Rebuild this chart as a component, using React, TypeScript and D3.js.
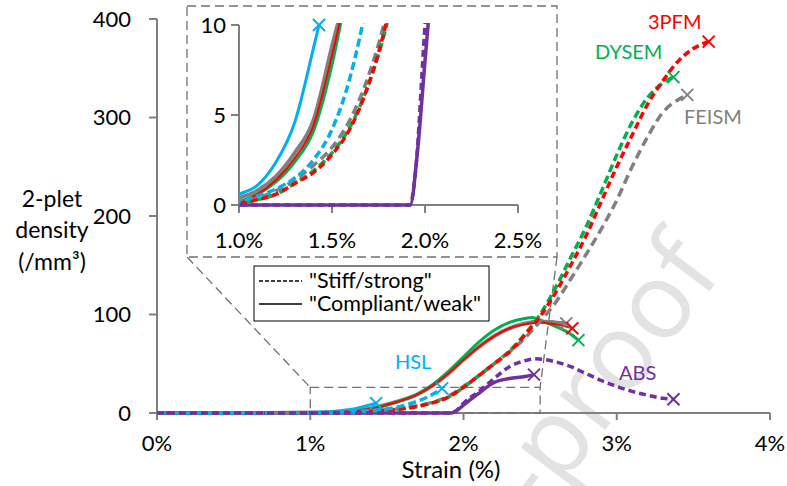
import React from 'react';
import * as d3 from 'd3';

// strain (%) / 2-plet density (/mm³)
const pfmStiff: [number, number][] = [
  [0, 0], [0.8, 0], [1.0, 0.1], [1.1, 0.3], [1.2, 0.6], [1.3, 1.2], [1.4, 1.8], [1.5, 2.8], [1.6, 4.3], [1.7, 6.8],
  [1.8, 10.5], [1.9, 16], [2.0, 26], [2.1, 38], [2.2, 50], [2.3, 62], [2.4, 79], [2.5, 98], [2.6, 122], [2.7, 150],
  [2.8, 180], [2.9, 215], [3.0, 250], [3.1, 282], [3.2, 313], [3.3, 337], [3.4, 357], [3.5, 370], [3.6, 377],
];
const dysemStiff: [number, number][] = [
  [0, 0], [0.8, 0], [1.0, 0.1], [1.1, 0.3], [1.2, 0.6], [1.3, 1.2], [1.4, 1.9], [1.5, 2.9], [1.6, 4.4], [1.7, 6.8],
  [1.8, 10.3], [1.9, 16], [2.0, 26], [2.1, 38], [2.2, 50], [2.3, 63], [2.4, 80], [2.5, 100], [2.6, 127], [2.7, 158],
  [2.8, 189], [2.9, 225], [3.0, 262], [3.1, 295], [3.2, 320], [3.3, 335], [3.37, 341],
];
const feismStiff: [number, number][] = [
  [0, 0], [0.8, 0], [1.0, 0.2], [1.1, 0.4], [1.2, 0.8], [1.3, 1.4], [1.4, 2.2], [1.5, 3.2], [1.6, 4.8], [1.7, 7.3],
  [1.8, 11], [1.9, 17], [2.0, 27], [2.1, 38], [2.2, 50], [2.3, 62], [2.4, 76], [2.5, 93], [2.6, 112], [2.7, 136],
  [2.8, 161], [2.9, 187], [3.0, 216], [3.1, 250], [3.2, 280], [3.3, 305], [3.4, 318], [3.46, 323],
];
const hslStiff: [number, number][] = [
  [0, 0], [0.8, 0], [1.0, 0.2], [1.1, 0.5], [1.2, 0.9], [1.3, 1.5], [1.4, 2.5], [1.5, 4.2], [1.6, 7.2], [1.7, 12],
  [1.8, 19], [1.86, 25],
];
const absStiff: [number, number][] = [
  [0, 0], [1.92, 0], [1.95, 2], [2.0, 10], [2.1, 22], [2.2, 35], [2.3, 47], [2.4, 53], [2.47, 55], [2.6, 52],
  [2.7, 47], [2.8, 40], [2.9, 33], [3.0, 27], [3.1, 22], [3.2, 18], [3.3, 15], [3.37, 14],
];

const pfmWeak: [number, number][] = [
  [0, 0], [0.7, 0], [1.0, 0.2], [1.1, 0.6], [1.2, 1.4], [1.3, 2.6], [1.4, 4.4], [1.5, 8.3], [1.6, 13], [1.7, 19],
  [1.8, 28], [1.9, 40], [2.0, 54], [2.1, 67], [2.2, 78], [2.3, 86], [2.4, 90], [2.5, 92], [2.6, 90], [2.71, 86],
];
const dysemWeak: [number, number][] = [
  [0, 0], [0.7, 0], [1.0, 0.2], [1.1, 0.6], [1.2, 1.3], [1.3, 2.4], [1.4, 4.1], [1.5, 7.8], [1.6, 13], [1.7, 19],
  [1.8, 29], [1.9, 42], [2.0, 57], [2.1, 72], [2.2, 84], [2.3, 92], [2.4, 96], [2.45, 97], [2.5, 94], [2.6, 88],
  [2.7, 80], [2.75, 74],
];
const feismWeak: [number, number][] = [
  [0, 0], [0.7, 0], [1.0, 0.4], [1.1, 0.8], [1.2, 1.6], [1.3, 2.9], [1.4, 4.7], [1.5, 8.8], [1.6, 13], [1.7, 19],
  [1.8, 28], [1.9, 40], [2.0, 54], [2.1, 67], [2.2, 78], [2.3, 86], [2.4, 91], [2.5, 93], [2.6, 92], [2.67, 91],
];
const hslWeak: [number, number][] = [
  [0, 0], [0.6, 0], [0.8, 0.1], [1.0, 0.6], [1.1, 1.1], [1.2, 2.4], [1.3, 4.6], [1.4, 8.7], [1.43, 10],
];
const absWeak: [number, number][] = [
  [0, 0], [1.92, 0], [1.96, 3], [2.0, 8], [2.05, 14], [2.1, 20], [2.15, 26], [2.2, 31], [2.3, 35], [2.4, 37],
  [2.46, 39],
];

const xTicks = [0, 1, 2, 3, 4];
const yTicks = [0, 100, 200, 300, 400];
const insetXTicks = [1.0, 1.5, 2.0, 2.5];
const insetYTicks = [0, 5, 10];

const series = [
  { data: feismWeak, color: '#808080', dash: null, width: 4 },
  { data: dysemWeak, color: '#00b050', dash: null, width: 3 },
  { data: pfmWeak, color: '#ff0000', dash: null, width: 2 },
  { data: hslWeak, color: '#00b0f0', dash: null, width: 3 },
  { data: absWeak, color: '#7030a0', dash: null, width: 3.5 },
  { data: feismStiff, color: '#808080', dash: '9,5', width: 3.5 },
  { data: dysemStiff, color: '#00b050', dash: '8,4', width: 3.5 },
  { data: pfmStiff, color: '#ff0000', dash: '7,4', width: 3.5 },
  { data: hslStiff, color: '#00b0f0', dash: '8,4', width: 3.5 },
  { data: absStiff, color: '#7030a0', dash: '7,4', width: 3.5 },
];

const FONT = 'Lato, "Open Sans", sans-serif';
const AXIS = '#808080';

const Cross = ({ x, y, color }: { x: number; y: number; color: string }) => (
  <g stroke={color} strokeWidth={2}>
    <line x1={x - 6} y1={y - 6} x2={x + 6} y2={y + 6} />
    <line x1={x - 6} y1={y + 6} x2={x + 6} y2={y - 6} />
  </g>
);

export default function App() {
  const x = d3.scaleLinear().domain([0, 4]).range([157, 770]);
  const y = d3.scaleLinear().domain([0, 400]).range([413, 19]);
  const ix = d3.scaleLinear().domain([1, 2.5]).range([239, 518]);
  const iy = d3.scaleLinear().domain([0, 10]).range([205, 25]);

  const mainLine = d3.line<[number, number]>().x(d => x(d[0])).y(d => y(d[1])).curve(d3.curveMonotoneX);
  const insetLine = d3.line<[number, number]>().x(d => ix(d[0])).y(d => iy(d[1])).curve(d3.curveMonotoneX);

  const last = (d: [number, number][]) => d[d.length - 1];

  // zoom box on main axes
  const zx0 = x(1), zx1 = x(2.5), zy0 = y(0), zy1 = y(26);
  const box = { x0: 187, x1: 557, y0: 6, y1: 257 };

  return (
    <svg width={787} height={486} style={{ position: 'absolute', left: 0, top: 0, background: '#fff' }}
      fontFamily={FONT}>
      <defs>
        <clipPath id="insetClip">
          <rect x={ix(1)} y={iy(10) - 2} width={ix(2.5) - ix(1)} height={iy(0) - iy(10) + 6} />
        </clipPath>
      </defs>

      {/* watermark */}
      <text transform="translate(724,272) rotate(-53)" textAnchor="end" fontSize={106} fill="#e3e3e3"
        fontFamily='"Open Sans", sans-serif'>-proof</text>

      {/* main axes */}
      <line x1={x(0)} x2={x(0)} y1={y(400)} y2={y(0)} stroke={AXIS} strokeWidth={2} />
      <line x1={x(0)} x2={x(4)} y1={y(0)} y2={y(0)} stroke={AXIS} strokeWidth={2} />
      {yTicks.map(t => (
        <g key={t}>
          <line x1={x(0) - 8} x2={x(0)} y1={y(t)} y2={y(t)} stroke={AXIS} strokeWidth={2} />
          <text x={131} y={y(t)} dy="0.35em" textAnchor="end" fontSize={22}>{t}</text>
        </g>
      ))}
      {xTicks.map(t => (
        <g key={t}>
          <line x1={x(t)} x2={x(t)} y1={y(0)} y2={y(0) + 7} stroke={AXIS} strokeWidth={2} />
          <text x={x(t)} y={451} textAnchor="middle" fontSize={22}>{t}%</text>
        </g>
      ))}
      <text x={451} y={478} textAnchor="middle" fontSize={24}>Strain (%)</text>
      <text x={52} y={207} textAnchor="middle" fontSize={23}>2-plet</text>
      <text x={52} y={238} textAnchor="middle" fontSize={23}>density</text>
      <text x={52} y={270} textAnchor="middle" fontSize={23}>(/mm³)</text>

      {/* zoom region + connectors */}
      <g fill="none" stroke="#707070" strokeWidth={1.3} strokeDasharray="9,5">
        <rect x={zx0} y={zy1} width={zx1 - zx0} height={zy0 - zy1} />
        <line x1={box.x0} y1={box.y1} x2={zx0} y2={zy1} />
        <line x1={box.x1} y1={box.y1} x2={zx1} y2={zy1} />
      </g>

      {/* main curves */}
      {series.map((s, i) => (
        <path key={i} d={mainLine(s.data) || ''} fill="none" stroke={s.color} strokeWidth={s.width}
          strokeDasharray={s.dash || undefined} />
      ))}
      {series.map((s, i) => {
        const p = last(s.data);
        return <Cross key={i} x={x(p[0])} y={y(p[1])} color={s.color} />;
      })}

      {/* series labels */}
      <text x={648} y={29} fontSize={20} fill="#ff0000">3PFM</text>
      <text x={595} y={59} fontSize={20} fill="#00b050">DYSEM</text>
      <text x={684} y={124} fontSize={20} fill="#808080">FEISM</text>
      <text x={395} y={369} fontSize={20} fill="#00b0f0">HSL</text>
      <text x={619} y={380} fontSize={20} fill="#7030a0">ABS</text>

      {/* legend */}
      <rect x={254} y={266} width={235} height={55} fill="#fff" stroke="#000" strokeWidth={1} />
      <line x1={259} x2={302} y1={281} y2={281} stroke="#000" strokeWidth={1.5} strokeDasharray="4,2" />
      <line x1={259} x2={302} y1={304} y2={304} stroke="#000" strokeWidth={1.5} />
      <text x={309} y={288} fontSize={21.5}>"Stiff/strong"</text>
      <text x={309} y={311} fontSize={21.5}>"Compliant/weak"</text>

      {/* inset */}
      <rect x={box.x0} y={box.y0} width={box.x1 - box.x0} height={box.y1 - box.y0} fill="#fff"
        stroke="#707070" strokeWidth={1.3} strokeDasharray="9,5" />
      <line x1={ix(1)} x2={ix(1)} y1={iy(10)} y2={iy(0)} stroke={AXIS} strokeWidth={2} />
      <line x1={ix(1)} x2={ix(2.5)} y1={iy(0)} y2={iy(0)} stroke={AXIS} strokeWidth={2} />
      {insetYTicks.map(t => (
        <g key={t}>
          <line x1={ix(1) - 8} x2={ix(1)} y1={iy(t)} y2={iy(t)} stroke={AXIS} strokeWidth={2} />
          <text x={226} y={iy(t)} dy="0.35em" textAnchor="end" fontSize={22}>{t}</text>
        </g>
      ))}
      {insetXTicks.map(t => (
        <g key={t}>
          <line x1={ix(t)} x2={ix(t)} y1={iy(0)} y2={iy(0) + 8} stroke={AXIS} strokeWidth={2} />
          <text x={ix(t)} y={248} textAnchor="middle" fontSize={22}>{t.toFixed(1)}%</text>
        </g>
      ))}
      <g clipPath="url(#insetClip)">
        {series.map((s, i) => (
          <path key={i} d={insetLine(s.data) || ''} fill="none" stroke={s.color} strokeWidth={s.width}
            strokeDasharray={s.dash || undefined} />
        ))}
      </g>
      <Cross x={ix(last(hslWeak)[0])} y={iy(last(hslWeak)[1])} color="#00b0f0" />
    </svg>
  );
}
